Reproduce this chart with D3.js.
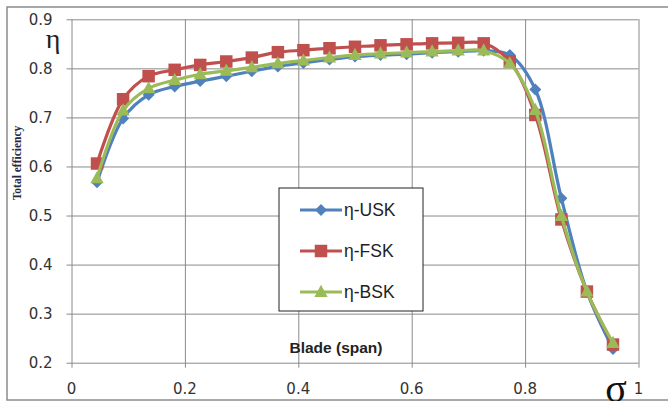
<!DOCTYPE html>
<html><head><meta charset="utf-8">
<script src="https://cdn.jsdelivr.net/npm/d3@7"></script>
<style>html,body{margin:0;padding:0;background:#fff;overflow:hidden}</style>
</head><body>
<svg id="c" width="668" height="401"></svg>
<script>
const span = [0.045,0.091,0.136,0.182,0.227,0.273,0.318,0.364,0.409,0.455,0.5,0.545,0.591,0.636,0.682,0.727,0.773,0.818,0.864,0.909,0.955];
const etaUSK = [0.568,0.698,0.746,0.763,0.774,0.784,0.794,0.804,0.811,0.818,0.824,0.827,0.829,0.832,0.834,0.836,0.827,0.757,0.535,0.345,0.228];
const etaFSK = [0.606,0.737,0.784,0.797,0.807,0.814,0.822,0.833,0.837,0.841,0.844,0.847,0.849,0.851,0.852,0.851,0.814,0.705,0.492,0.345,0.237];
const etaBSK = [0.576,0.714,0.759,0.776,0.788,0.795,0.802,0.810,0.816,0.822,0.827,0.830,0.832,0.834,0.836,0.836,0.810,0.715,0.499,0.345,0.240];
const seriesNames = ["η-USK","η-FSK","η-BSK"];
const xTicks = [0,0.2,0.4,0.6,0.8,1];
const yTicks = [0.2,0.3,0.4,0.5,0.6,0.7,0.8,0.9];

const diamond = {draw(ctx,size){const r=Math.sqrt(size/2);ctx.moveTo(0,-r);ctx.lineTo(r,0);ctx.lineTo(0,r);ctx.lineTo(-r,0);ctx.closePath();}};
const triangle = {draw(ctx,size){const w=Math.sqrt(size*2);const h=w*0.92;ctx.moveTo(0,-h*0.6);ctx.lineTo(w/2,h*0.4);ctx.lineTo(-w/2,h*0.4);ctx.closePath();}};

const series = [
  {name: seriesNames[0], values: etaUSK, color: "#4F81BD", symbol: diamond, size: 72},
  {name: seriesNames[1], values: etaFSK, color: "#C0504D", symbol: d3.symbolSquare, size: 156},
  {name: seriesNames[2], values: etaBSK, color: "#9BBB59", symbol: triangle, size: 88}
];

const svg = d3.select("#c");
const x = d3.scaleLinear().domain([0,1]).range([71.5,638.5]);
const y = d3.scaleLinear().domain([0.2,0.9]).range([362.7,19.3]);

// outer border
svg.append("rect").attr("x",7).attr("y",7).attr("width",700).attr("height",393)
  .attr("fill","none").attr("stroke","#8c8c8c").attr("stroke-width",1.5);

// grid
const gx = svg.append("g").attr("transform","translate(0,362.7)")
  .call(d3.axisBottom(x).tickValues(xTicks).tickSizeOuter(0).tickFormat(""));
gx.select(".domain").remove();
gx.selectAll(".tick line").attr("y1",5).attr("y2",-343.4).attr("stroke","#8a8a8a");
gx.selectAll("text").remove();

const gy = svg.append("g").attr("transform","translate(71.5,0)")
  .call(d3.axisLeft(y).tickValues(yTicks).tickSizeOuter(0).tickFormat(d3.format(".1f")));
gy.select(".domain").remove();
gy.selectAll(".tick line").attr("x1",-5).attr("x2",x(1)-71.5).attr("stroke","#8a8a8a");
gy.selectAll("text").attr("x",-19).attr("font-family","DejaVu Sans").attr("font-size",15).attr("fill","#333");

// x tick labels
svg.append("g").selectAll("text").data(xTicks).join("text")
  .attr("x",d=>x(d)).attr("y",394).attr("text-anchor","middle")
  .attr("font-family","DejaVu Sans").attr("font-size",15).attr("fill","#333")
  .text(d=>d3.format("")(d));

// lines
const line = d3.line().x((d,i)=>x(span[i])).y(d=>y(d)).curve(d3.curveCatmullRom.alpha(0.5));
series.forEach(s=>{
  const g = svg.append("g");
  g.append("path").attr("d",line(s.values)).attr("fill","none").attr("stroke",s.color).attr("stroke-width",3.2);
  g.selectAll("path.m").data(s.values).join("path").attr("class","m")
    .attr("transform",(d,i)=>`translate(${x(span[i])},${y(d)})`)
    .attr("d",d3.symbol().type(s.symbol).size(s.size)).attr("fill",s.color);
});

// legend
const lg = svg.append("g");
lg.append("rect").attr("x",279).attr("y",188).attr("width",144).attr("height",123)
  .attr("fill","#fff").attr("stroke","#222").attr("stroke-width",1);
series.forEach((s,i)=>{
  const cy = 210 + i*41;
  lg.append("line").attr("x1",300).attr("x2",342).attr("y1",cy).attr("y2",cy).attr("stroke",s.color).attr("stroke-width",3.2);
  lg.append("path").attr("transform",`translate(321,${cy})`).attr("d",d3.symbol().type(s.symbol).size(s.size)).attr("fill",s.color);
  lg.append("text").attr("x",344).attr("y",cy+6).attr("font-family","Liberation Sans").attr("font-size",17.5).attr("fill","#222").text(s.name);
});

// axis titles
svg.append("text").attr("x",336).attr("y",353).attr("text-anchor","middle")
  .attr("font-family","Liberation Sans").attr("font-weight","bold").attr("font-size",15.5).attr("fill","#222").text("Blade (span)");
svg.append("text").attr("transform","translate(21,163) rotate(-90)").attr("text-anchor","middle")
  .attr("font-family","Liberation Serif").attr("font-weight","bold").attr("font-size",11.5).attr("fill","#1F2A44").text("Total efficiency");
svg.append("text").attr("x",53).attr("y",48).attr("text-anchor","middle")
  .attr("font-family","Liberation Serif").attr("font-size",28).attr("fill","#222").text("η");
svg.append("text").attr("x",616).attr("y",402).attr("text-anchor","middle")
  .attr("font-family","Liberation Serif").attr("font-size",40).attr("fill","#111").text("σ");
</script>
</body></html>
